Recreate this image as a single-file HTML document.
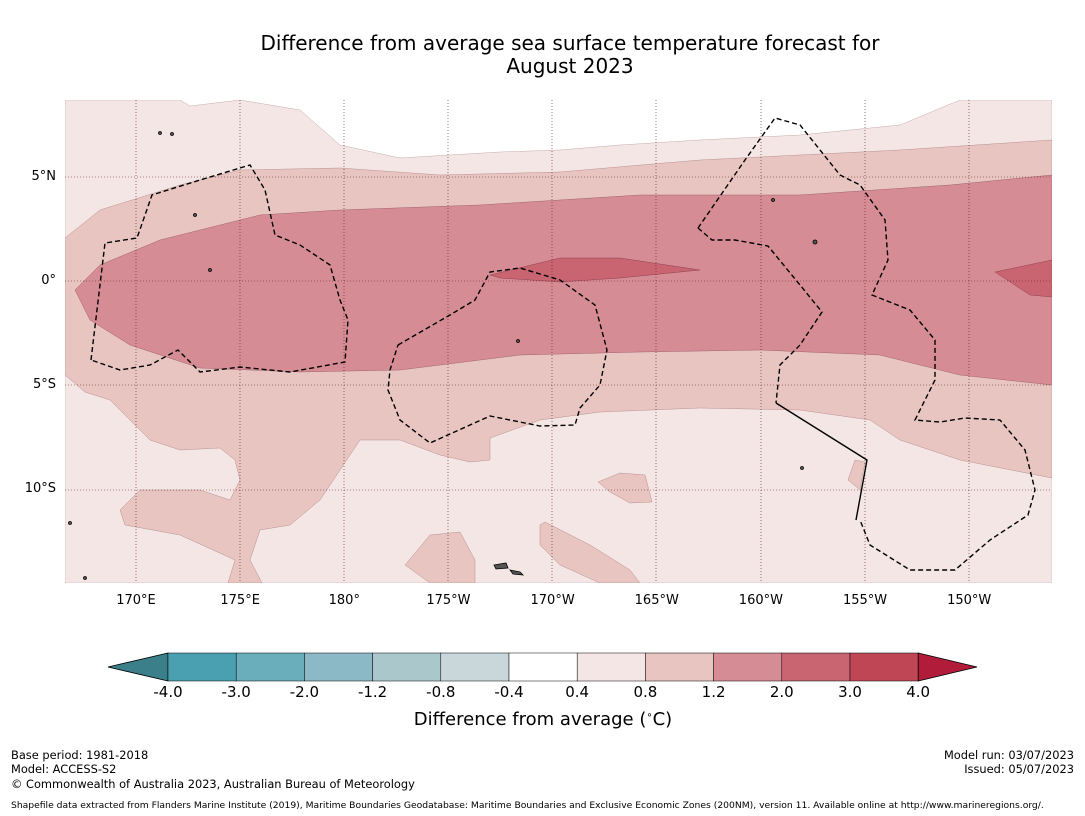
<!DOCTYPE html>
<html><head><meta charset="utf-8"><style>
body{margin:0;background:#fff;font-family:"DejaVu Sans","Liberation Sans",sans-serif;}
#wrap{position:relative;width:1085px;height:816px;overflow:hidden;background:#fff}
.t{position:absolute;white-space:nowrap;color:#000}
</style></head><body>
<div id="wrap">
<div class="t" style="left:0;width:1140px;top:32px;text-align:center;font-size:20px;line-height:23px">Difference from average sea surface temperature forecast for<br>August 2023</div>
<svg id="map" width="1085" height="816" style="position:absolute;left:0;top:0">
<defs><clipPath id="cp"><rect x="65" y="100" width="987" height="483"/></clipPath></defs>
<g clip-path="url(#cp)">
<path fill="#f4e6e5" stroke="#c9a9a9" stroke-width="0.5" d="M65,100 L180,100 190,106 240,100 300,110 340,145 400,158 500,152 560,150 620,145 700,140 800,135 900,125 960,100 1052,100 1052,583 65,583Z"/>
<path fill="#e8c5c1" stroke="#b89090" stroke-width="0.5" d="M65,238 L100,210 180,185 240,170 340,168 440,175 560,172 700,160 900,150 1052,140 L1052,478 960,460 900,440 870,420 800,410 700,408 600,412 540,420 490,438 490,460 470,462 440,455 400,440 360,440 340,470 320,500 290,525 260,530 250,560 262,583 228,583 235,560 180,535 125,525 120,510 140,490 200,490 230,500 240,480 235,460 220,448 180,450 150,440 130,420 110,400 85,392 65,375Z"/>
<path fill="#e8c5c1" stroke="#b89090" stroke-width="0.5" d="M598,482 L620,473 645,475 652,502 630,503 610,492Z"/>
<path fill="#e8c5c1" stroke="#b89090" stroke-width="0.5" d="M405,565 L430,535 460,532 475,560 475,583 430,583Z"/>
<path fill="#e8c5c1" stroke="#b89090" stroke-width="0.5" d="M540,525 L545,522 590,545 630,570 640,583 600,583 560,565 540,545Z"/>
<path fill="#e8c5c1" stroke="#b89090" stroke-width="0.5" d="M848,480 L855,460 865,462 860,490Z"/>
<path fill="#d68c95" stroke="#a06070" stroke-width="0.5" d="M75,290 L100,265 160,240 260,215 340,210 480,205 640,195 800,195 950,185 1052,175 L1052,385 960,375 880,355 760,350 640,352 520,355 400,370 300,372 200,368 130,345 90,320Z"/>
<path fill="#c96571" stroke="#904050" stroke-width="0.5" d="M490,275 L560,258 620,258 700,270 620,278 560,282 500,278Z"/>
<path fill="#c96571" stroke="#904050" stroke-width="0.5" d="M995,272 L1052,260 1052,297 1030,295Z"/>
<g stroke="#5a1a1a" stroke-width="0.6" stroke-dasharray="1,2">
<line x1="136" y1="100" x2="136" y2="583"/><line x1="240" y1="100" x2="240" y2="583"/><line x1="344" y1="100" x2="344" y2="583"/><line x1="448" y1="100" x2="448" y2="583"/><line x1="552" y1="100" x2="552" y2="583"/><line x1="656" y1="100" x2="656" y2="583"/><line x1="761" y1="100" x2="761" y2="583"/><line x1="865" y1="100" x2="865" y2="583"/><line x1="969" y1="100" x2="969" y2="583"/>
<line x1="65" y1="177" x2="1052" y2="177"/><line x1="65" y1="281" x2="1052" y2="281"/><line x1="65" y1="385" x2="1052" y2="385"/><line x1="65" y1="490" x2="1052" y2="490"/>
</g>
<g fill="none" stroke="#000" stroke-width="1.4" stroke-dasharray="5,3">
<path d="M91,360 L105,243 137,238 152,195 200,180 250,165 265,190 275,235 300,245 330,265 340,300 348,320 345,362 290,372 240,367 200,372 178,350 150,365 120,370 91,360"/>
<path d="M398,345 L450,315 475,300 490,272 520,268 560,280 595,305 607,350 600,385 580,408 575,425 540,426 490,416 430,443 400,420 388,390 390,370 398,345"/>
<path d="M698,228 L745,160 775,118 800,125 840,175 860,185 885,220 888,260 872,295 910,310 935,340 935,380 915,420 940,422 965,418 1000,420 1025,450 1035,490 1028,515 990,540 955,570 910,570 870,545 860,520"/>
<path d="M698,228 L712,240 735,240 768,246 800,285 822,312 800,345 780,365 776,403"/>
</g>
<path d="M776,403 L867,460 856,520" fill="none" stroke="#000" stroke-width="1.4"/>
<g fill="#555" stroke="#000" stroke-width="0.8">
<path d="M494,565 l12,-2 2,5 -12,1z"/><path d="M510,570 l10,2 3,3 -10,-1z"/>
<circle cx="160" cy="133" r="1.5"/><circle cx="172" cy="134" r="1.5"/><circle cx="195" cy="215" r="1.5"/><circle cx="210" cy="270" r="1.5"/><circle cx="815" cy="242" r="2"/><circle cx="773" cy="200" r="1.5"/><circle cx="518" cy="341" r="1.5"/><circle cx="802" cy="468" r="1.5"/><circle cx="70" cy="523" r="1.5"/><circle cx="85" cy="578" r="1.5"/>
</g>
</g>
</svg>
<div class="t" style="left:343px;width:400px;text-align:center;top:709px;font-size:18px">Difference from average (<sup style="font-size:10px">∘</sup>C)</div>
<div class="t" style="left:11px;top:748px;font-size:11.4px;line-height:14px">Base period: 1981-2018<br>Model: ACCESS-S2</div>
<div class="t" style="left:11px;top:777px;font-size:11.4px">© Commonwealth of Australia 2023, Australian Bureau of Meteorology</div>
<div class="t" style="right:11px;top:748px;font-size:11.4px;line-height:14px;text-align:right">Model run: 03/07/2023<br>Issued: 05/07/2023</div>
<div class="t" style="left:11px;top:800px;font-size:9.2px">Shapefile data extracted from Flanders Marine Institute (2019), Maritime Boundaries Geodatabase: Maritime Boundaries and Exclusive Economic Zones (200NM), version 11. Available online at http://www.marineregions.org/.</div>
</div>
<script>
const lonLabels=["170°E","175°E","180°","175°W","170°W","165°W","160°W","155°W","150°W"];
const lonValues=[170,175,180,185,190,195,200,205,210];
const latLabels=["5°N","0°","5°S","10°S"];
const latValues=[5,0,-5,-10];
const levelLabels=["-4.0","-3.0","-2.0","-1.2","-0.8","-0.4","0.4","0.8","1.2","2.0","3.0","4.0"];
const levelColors=["#4aa0b0","#6aadbb","#8bb9c5","#aac8cc","#c9d7db","#ffffff","#f4e6e5","#e8c5c1","#d68c95","#c96571","#bf4655"];
const xOfLon=l=>136+(l-170)*20.83;
const yOfLat=l=>281-l*20.83;
const wrap=document.getElementById('wrap');
lonValues.forEach((v,i)=>{const d=document.createElement('div');d.className='t';


d.style.cssText=`left:${xOfLon(v)-30}px;width:60px;text-align:center;top:593px;font-size:13px`;d.textContent=lonLabels[i];wrap.appendChild(d);});
latValues.forEach((v,i)=>{const d=document.createElement('div');d.className='t';


d.style.cssText=`right:${1085-56}px;top:${yOfLat(v)-8}px;font-size:13px;text-align:right`;d.textContent=latLabels[i];wrap.appendChild(d);});
const svg=document.getElementById('map');const NS='http://www.w3.org/2000/svg';
const cx0=168,cw=68.2,cy=653,ch=28;
const g=document.createElementNS(NS,'g');


svg.appendChild(g);
const left=document.createElementNS(NS,'polygon');


left.setAttribute('points',`${cx0},${cy} ${cx0},${cy+ch} 108,${cy+ch/2}`);left.setAttribute('fill','#3a7f8a');left.setAttribute('stroke','#000');left.setAttribute('stroke-width','0.8');g.appendChild(left);
levelColors.forEach((c,i)=>{const r=document.createElementNS(NS,'rect');


r.setAttribute('x',cx0+i*cw);r.setAttribute('y',cy);r.setAttribute('width',cw);r.setAttribute('height',ch);r.setAttribute('fill',c);r.setAttribute('stroke','#000');r.setAttribute('stroke-width','0.5');g.appendChild(r);});
const xe=cx0+levelColors.length*cw;
const right=document.createElementNS(NS,'polygon');


right.setAttribute('points',`${xe},${cy} ${xe},${cy+ch} 977,${cy+ch/2}`);right.setAttribute('fill','#b01c3a');right.setAttribute('stroke','#000');right.setAttribute('stroke-width','0.8');g.appendChild(right);
levelLabels.forEach((l,i)=>{const d=document.createElement('div');d.className='t';


d.style.cssText=`left:${cx0+i*cw-30}px;width:60px;text-align:center;top:683px;font-size:15px`;d.textContent=l;wrap.appendChild(d);});
</script>
</body></html>
